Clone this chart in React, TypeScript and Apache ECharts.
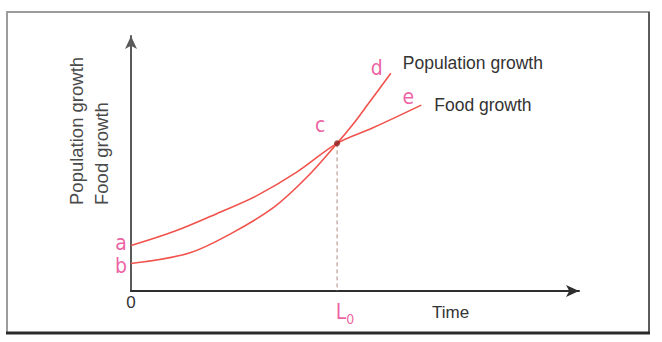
import { useEffect, useRef } from "react";
import * as echarts from "echarts";

// Food output over time (a -> c -> e)
const foodTime = [0, 10, 20, 28, 37, 46, 54, 64.8];
const foodLevel = [17.8, 23.6, 31.0, 37.3, 46.6, 57.9, 64.0, 72.9];

// Population over time (b -> c -> d)
const popTime = [0, 13, 22.5, 32, 39.3, 46, 49.6, 53, 58];
const popLevel = [10.8, 14.9, 22.7, 33.0, 44.7, 57.9, 65.5, 73.5, 85.4];

// Point where the two curves meet
const crossTime = 46;
const crossLevel = 57.9;

const seriesNames = ["Population growth", "Food growth"];
const axisTitles = ["Population growth", "Food growth"];
const timeTitle = "Time";
const pointLetters = ["a", "b", "c", "d", "e"];

const RED = "#f0534c";
const PINK = "#e8388c";
const INK = "#333333";
const NARROW = "'DejaVu Sans Condensed', 'Liberation Sans Narrow', 'Liberation Sans', Arial, sans-serif";
const SANS = "'Liberation Sans', Arial, sans-serif";

export default function App() {
  const ref = useRef<HTMLDivElement>(null);

  useEffect(() => {
    if (!ref.current) return;
    const chart = echarts.init(ref.current, undefined, { renderer: "svg" });

    const food = foodTime.map((t, i) => [t, foodLevel[i]]);
    const pop = popTime.map((t, i) => [t, popLevel[i]]);
    const foodEnd = food[food.length - 1];
    const popEnd = pop[pop.length - 1];

    // anchors and offsets for the point letters
    const letterAnchors = [food[0], pop[0], [crossTime, crossLevel], popEnd, foodEnd];
    const letterOffsets = [
      [-10, -3],
      [-10, 3],
      [-17, -18],
      [-14, -5],
      [-13, -8],
    ];

    chart.setOption({
      animation: false,
      backgroundColor: "#ffffff",
      grid: { left: 131, top: 36, width: 448, height: 255, containLabel: false },
      xAxis: {
        type: "value",
        min: 0,
        max: 100,
        interval: 100,
        axisLine: {
          show: true,
          symbol: ["none", "arrow"],
          symbolSize: [9, 13],
          lineStyle: { color: "#2e2e2e", width: 2 },
        },
        axisTick: { show: false },
        splitLine: { show: false },
        axisLabel: {
          show: true,
          margin: 3,
          color: INK,
          fontSize: 17,
          fontFamily: SANS,
          formatter: (v: number) => (v === 0 ? "0" : ""),
        },
      },
      yAxis: {
        type: "value",
        min: 0,
        max: 100,
        axisLine: {
          show: true,
          symbol: ["none", "arrow"],
          symbolSize: [9, 13],
          lineStyle: { color: "#5a5a5a", width: 2 },
        },
        axisTick: { show: false },
        splitLine: { show: false },
        axisLabel: { show: false },
      },
      graphic: [
        {
          type: "rect",
          shape: { x: 7, y: 12, width: 642, height: 321 },
          style: { fill: "none", stroke: "#9c9c9c", lineWidth: 2 },
          z: -1,
        },
        {
          type: "line",
          shape: { x1: 649, y1: 12, x2: 649, y2: 333 },
          style: { stroke: "#5c5c5c", lineWidth: 2 },
        },
        {
          type: "line",
          shape: { x1: 6, y1: 333, x2: 650, y2: 333 },
          style: { stroke: "#2a2a2a", lineWidth: 3 },
        },
        {
          type: "text",
          x: 64,
          y: 205,
          rotation: Math.PI / 2,
          style: {
            text: axisTitles.join("\n"),
            fill: "#4a4a4a",
            fontSize: 18.5,
            fontFamily: SANS,
            lineHeight: 25,
            align: "left",
            verticalAlign: "top",
          },
        },
        {
          type: "text",
          x: 432,
          y: 312,
          style: {
            text: timeTitle,
            fill: INK,
            fontSize: 17,
            fontFamily: SANS,
            align: "left",
            verticalAlign: "middle",
          },
        },
      ],
      series: [
        {
          name: seriesNames[0],
          type: "line",
          data: pop,
          smooth: 0.35,
          showSymbol: false,
          lineStyle: { color: RED, width: 1.6 },
          endLabel: {
            show: true,
            formatter: seriesNames[0],
            color: INK,
            fontSize: 17.5,
            fontFamily: SANS,
            offset: [4, -10],
          },
          z: 3,
        },
        {
          name: seriesNames[1],
          type: "line",
          data: food,
          smooth: 0.35,
          showSymbol: false,
          lineStyle: { color: RED, width: 1.6 },
          endLabel: {
            show: true,
            formatter: seriesNames[1],
            color: INK,
            fontSize: 17.5,
            fontFamily: SANS,
            offset: [5, 0],
          },
          z: 3,
        },
        {
          // drop line from the meeting point to the time axis
          type: "line",
          data: [
            [crossTime, crossLevel],
            [crossTime, 0],
          ],
          showSymbol: false,
          lineStyle: { color: "#b08a80", width: 1, type: [4, 3] },
          z: 2,
        },
        {
          // meeting point marker with the L0 mark below the axis
          type: "scatter",
          data: [
            {
              value: [crossTime, crossLevel],
              symbolSize: 6,
              itemStyle: { color: "#8c1f1f" },
            },
            {
              value: [crossTime, 0],
              symbolSize: 0,
              itemStyle: { color: "transparent" },
              label: {
                show: true,
                position: "inside",
                offset: [8, 21],
                formatter: "{l|L}{s|0}",
                rich: {
                  l: { fontSize: 21, color: PINK, fontFamily: NARROW },
                  s: { fontSize: 14, color: PINK, fontFamily: NARROW, padding: [14, 0, 0, 0] },
                },
              },
            },
          ],
          z: 4,
        },
        {
          // point letters
          type: "scatter",
          symbolSize: 1,
          itemStyle: { color: "transparent" },
          data: letterAnchors.map((p, i) => ({
            value: p,
            label: {
              show: true,
              position: "inside",
              formatter: pointLetters[i],
              offset: letterOffsets[i],
              color: PINK,
              fontSize: 21,
              lineHeight: 19,
              fontFamily: NARROW,
            },
          })),
          z: 5,
        },
      ],
    });

    return () => chart.dispose();
  }, []);

  return (
    <div
      ref={ref}
      style={{ position: "fixed", left: 0, top: 0, width: 662, height: 342, background: "#fff" }}
    />
  );
}
